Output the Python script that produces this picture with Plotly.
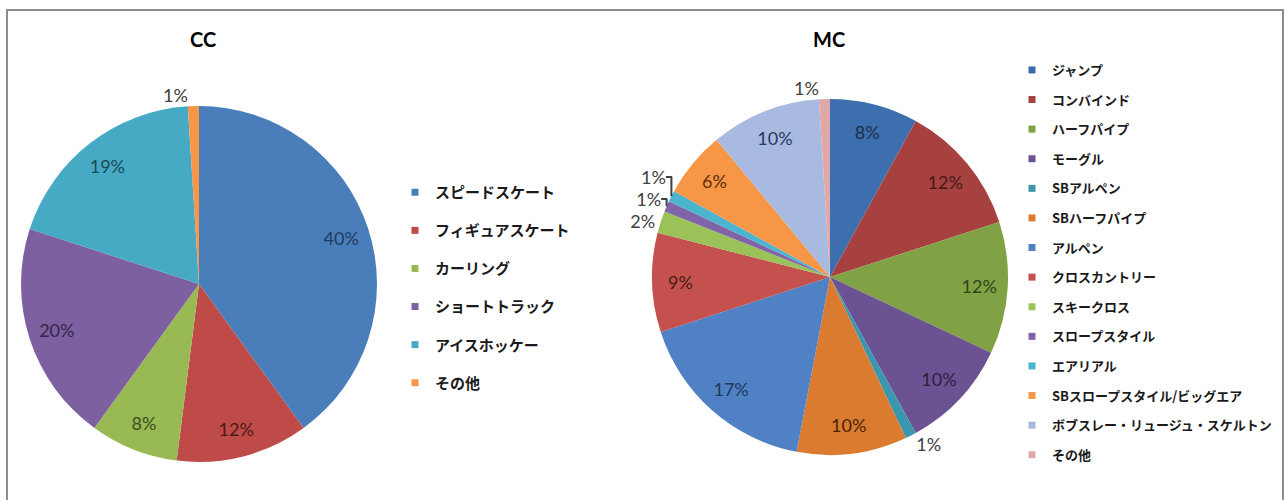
import plotly.graph_objects as go

# --- data -----------------------------------------------------------------
cc_labels = ["スピードスケート", "フィギュアスケート", "カーリング",
             "ショートトラック", "アイスホッケー", "その他"]
cc_values = [40, 12, 8, 20, 19, 1]

mc_labels = ["ジャンプ", "コンバインド", "ハーフパイプ", "モーグル", "SBアルペン",
             "SBハーフパイプ", "アルペン", "クロスカントリー", "スキークロス",
             "スロープスタイル", "エアリアル", "SBスロープスタイル/ビッグエア",
             "ボブスレー・リュージュ・スケルトン", "その他"]
mc_values = [8, 12, 12, 10, 1, 10, 17, 9, 2, 1, 1, 6, 10, 1]

# --- styling ----------------------------------------------------------------
cc_colors = ["#4A7EBB", "#BE4B48", "#98B954", "#7D60A0", "#46AAC5", "#F79646"]
cc_text = ["#1F3A5F", "#4A1A18", "#3D4F1E", "#33264A", "#1C4A57", "#404040"]

mc_colors = ["#3D6EAD", "#A6413F", "#80A244", "#6B5293", "#3B97AD", "#DA7B30",
             "#4F81C4", "#C4514E", "#9BC159", "#8064A8", "#4BB4CF", "#F79646",
             "#A8BADF", "#E0A8A8"]
mc_text = ["#1A2F4D", "#451816", "#33441A", "#2C2140", "#404040", "#4A2408",
           "#1F3A5F", "#4A1A18", "#404040", "#404040", "#404040", "#5A3008",
           "#1F3A5F", "#404040"]

NUM_FONT = "Lato, 'Noto Sans CJK JP', sans-serif"
JP_FONT = "'Noto Sans CJK JP', sans-serif"

W, H = 1285, 500


def px_x(x):
    return x / W


def px_y(y):
    return 1 - y / H


fig = go.Figure()


def add_pie(labels, values, colors, text_colors, x0, x1, y0, y1):
    domain = dict(x=[px_x(x0), px_x(x1)], y=[px_y(y1), px_y(y0)])
    # filled slices
    fig.add_trace(go.Pie(
        labels=labels, values=values, sort=False,
        direction="clockwise", rotation=0,
        marker=dict(colors=colors, line=dict(width=0)),
        textinfo="none", showlegend=False, domain=domain,
        hoverinfo="label+percent",
    ))
    # transparent ring carrying the percentage labels near the rim
    positions = ["outside" if v < 3 else "inside" for v in values]
    fig.add_trace(go.Pie(
        labels=labels, values=values, sort=False,
        direction="clockwise", rotation=0, hole=0.68,
        marker=dict(colors=["rgba(0,0,0,0)"] * len(values), line=dict(width=0)),
        texttemplate="%{percent:.0%}",
        textposition=positions,
        insidetextorientation="horizontal",
        textfont=dict(family=NUM_FONT, size=18, color=text_colors),
        outsidetextfont=dict(family=NUM_FONT, size=18, color="#404040"),
        showlegend=False, domain=domain,
        hoverinfo="label+percent",
    ))


add_pie(cc_labels, cc_values, cc_colors, cc_text, 21, 377, 106, 462)
add_pie(mc_labels, mc_values, mc_colors, mc_text, 652, 1008, 99, 455)


def add_legend_entries(labels, colors, legend_id):
    for lab, col in zip(labels, colors):
        fig.add_trace(go.Scatter(
            x=[None], y=[None], mode="markers", name=lab,
            marker=dict(symbol="square", size=7, color=col),
            legend=legend_id, legendgroup=legend_id + lab,
            hoverinfo="skip",
        ))


add_legend_entries(cc_labels, cc_colors, "legend")
add_legend_entries(mc_labels, mc_colors, "legend2")

fig.update_layout(
    width=W, height=H,
    margin=dict(l=0, r=0, t=0, b=0),
    paper_bgcolor="white",
    plot_bgcolor="white",
    xaxis=dict(visible=False),
    yaxis=dict(visible=False),
    legend=dict(
        x=px_x(395), y=px_y(176), xanchor="left", yanchor="top",
        font=dict(family=JP_FONT, size=15, color="#1A1A1A", weight="bold"),
        tracegroupgap=15.6, bgcolor="rgba(0,0,0,0)",
    ),
    legend2=dict(
        x=px_x(1012), y=px_y(55), xanchor="left", yanchor="top",
        font=dict(family=JP_FONT, size=13, color="#1A1A1A", weight="bold"),
        tracegroupgap=9.7, bgcolor="rgba(0,0,0,0)",
    ),
    annotations=[
        dict(text="<b>CC</b>", x=px_x(203), y=px_y(39), xref="paper", yref="paper",
             xanchor="center", yanchor="middle", showarrow=False,
             font=dict(family=NUM_FONT, size=20, color="#000000")),
        dict(text="<b>MC</b>", x=px_x(829), y=px_y(39), xref="paper", yref="paper",
             xanchor="center", yanchor="middle", showarrow=False,
             font=dict(family=NUM_FONT, size=20, color="#000000")),
    ],
    shapes=[
        dict(type="rect", xref="paper", yref="paper",
             x0=px_x(7), x1=px_x(1283), y0=px_y(520), y1=px_y(10),
             line=dict(color="#8C8C8C", width=2), layer="below"),
    ],
)

fig.write_html("out.html")
